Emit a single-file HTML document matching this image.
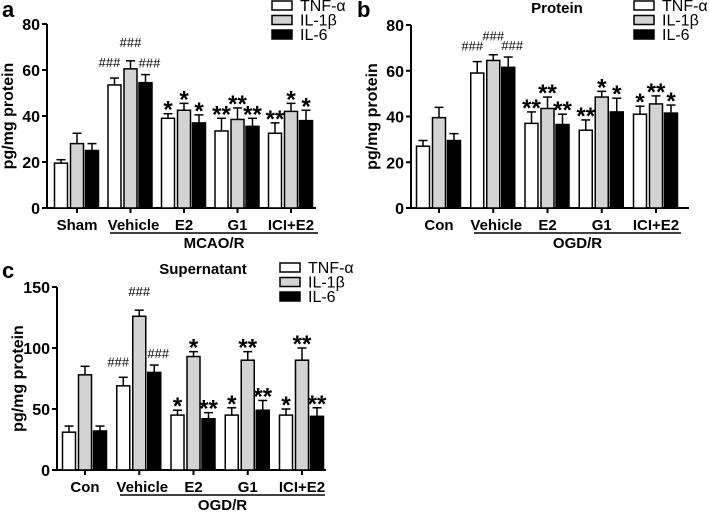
<!DOCTYPE html>
<html><head><meta charset="utf-8">
<style>
html,body{margin:0;padding:0;background:#fff;}
svg{display:block;font-family:"Liberation Sans",sans-serif;}
</style></head>
<body>
<svg id="fig" width="709" height="512" viewBox="0 0 709 512" xmlns="http://www.w3.org/2000/svg"></svg>
<script>
const seriesNames = ["TNF-α","IL-1β","IL-6"];
const seriesFill = ["#ffffff","#d3d3d3","#000000"];

const aGroups = ["Sham","Vehicle","E2","G1","ICI+E2"];
const aTNF = [19.5,53.5,39,33.5,32.5];
const aIL1 = [28,60.5,42.5,38.5,42];
const aIL6 = [25,54.5,37,35.5,38];
const aTNFerr = [1.5,3,2,5.5,4.5];
const aIL1err = [4.5,3.5,3,5,3.5];
const aIL6err = [3,3.5,3.5,3.5,4.5];
const aTicks = [0,20,40,60,80];
const aMarks = [["","",""],["###","###","###"],["*","*","*"],["**","**","**"],["**","*","*"]];

const bGroups = ["Con","Vehicle","E2","G1","ICI+E2"];
const bTNF = [27,59,37,34,41];
const bIL1 = [39.5,64.5,43.5,48.5,45.5];
const bIL6 = [29.5,61.5,36.5,42,41.5];
const bTNFerr = [2.5,5,5,4.5,3.5];
const bIL1err = [4.5,2.5,5,2.5,3.5];
const bIL6err = [3,4.5,4.5,6,3.5];
const bTicks = [0,20,40,60,80];
const bMarks = [["","",""],["###","###","###"],["**","**","**"],["**","*","*"],["*","**","*"]];

const cGroups = ["Con","Vehicle","E2","G1","ICI+E2"];
const cTNF = [31,69,45,45,45];
const cIL1 = [78,126,93,90,90];
const cIL6 = [32,80,42,49,44];
const cTNFerr = [5,7,4,6,5];
const cIL1err = [7,5,4,7,10];
const cIL6err = [4,6,5,8,7];
const cTicks = [0,50,100,150];
const cMarks = [["","",""],["###","###","###"],["*","*","**"],["*","**","**"],["*","**","**"]];

const NS="http://www.w3.org/2000/svg";
const svg=document.getElementById('fig');
function mk(tag,attrs,parent,text){
  const e=document.createElementNS(NS,tag);
  for(const k in attrs) e.setAttribute(k,attrs[k]);
  if(text!==undefined) e.textContent=text;
  (parent||svg).appendChild(e);
  return e;
}

function panel(p){
  const g=mk('g',{});
  
  
  const yMax=p.ticks[p.ticks.length-1];
  const y=v=>p.y0-(v/yMax)*(p.y0-p.yTop);
  const x=i=>p.x1+i*p.step;
  const L=mk('text',{x:p.letterX,y:p.letterY,'font-size':22,'font-weight':'bold'},g,p.id);
  
  
  if(p.title){
    const t=mk('text',{x:p.titleX,y:p.titleY,'font-size':15,'font-weight':'bold','text-anchor':'middle'},g,p.title);
    
    
  }
  const ax=mk('path',{d:`M${p.ax},${p.yTop} V${p.y0} H${p.axEnd}`,stroke:'#000','stroke-width':2,fill:'none'},g);
  
  
  p.ticks.forEach(t=>{
    mk('line',{x1:p.ax-5,x2:p.ax,y1:y(t),y2:y(t),stroke:'#000','stroke-width':2},g);
    const tl=mk('text',{x:p.ax-7,y:y(t)+6,'font-size':16,'font-weight':'bold','text-anchor':'end'},g,String(t));
    
    
  });
  const yl=mk('text',{x:0,y:0,'font-size':16,'font-weight':'bold','text-anchor':'middle',transform:`translate(${p.ax-34},${(p.y0+p.yTop)/2}) rotate(-90)`},g,'pg/mg protein');
  
  
  const offs=[-16,0,15];
  p.groups.forEach((name,i)=>{
    const cx=x(i);
    mk('line',{x1:cx,x2:cx,y1:p.y0,y2:p.y0+5,stroke:'#000','stroke-width':2},g);
    const gl=mk('text',{x:cx+(i===1?3:0),y:p.y0+22,'font-size':15,'font-weight':'bold','text-anchor':'middle'},g,name);
    
    
    p.series.forEach((s,k)=>{
      const v=s[i], e=p.errs[k][i];
      const bx=cx+offs[k]-6.5;
      const top=y(v), et=y(v+e);
      mk('line',{x1:bx+6.5,x2:bx+6.5,y1:top,y2:et,stroke:'#000','stroke-width':1.5},g);
      mk('line',{x1:bx+2,x2:bx+11,y1:et,y2:et,stroke:'#000','stroke-width':1.5},g);
      const r=mk('rect',{x:bx,y:top,width:13,height:p.y0-top,fill:seriesFill[k],stroke:'#000','stroke-width':1.5},g);
      
      
      const m=p.marks[i][k];
      if(m){
        const isHash=m[0]==='#';
        const ty=isHash? et-(k===1?14:7)-(k===0?4:0) : et+4;
        const mt=mk('text',{x:bx+6.5+(isHash&&k===0?-5:0)+(isHash&&k===2?4:0),y:ty,'font-size':isHash?13:24,'text-anchor':'middle','font-weight':isHash?'normal':'bold'},g,m);
        
        
      }
    });
  });
  mk('line',{x1:p.ulX1,x2:p.ulX2,y1:p.y0+25,y2:p.y0+25,stroke:'#000','stroke-width':1.5},g);
  const cl=mk('text',{x:(p.ulX1+p.ulX2)/2,y:p.y0+40,'font-size':15,'font-weight':'bold','text-anchor':'middle'},g,p.cond);
  
  
  seriesNames.forEach((n,k)=>{
    const ly=p.legY+k*14.5;
    const lb=mk('rect',{x:p.legX,y:ly-4,width:20,height:9,fill:seriesFill[k],stroke:'#000','stroke-width':1.5},g);
    
    
    const lt=mk('text',{x:p.legX+28,y:ly+6,'font-size':16},g,n);
    
    
  });
}

panel({id:'a',letterX:2,letterY:17,ax:47,axEnd:316,y0:208,yTop:24,x1:77,step:53.5,ticks:aTicks,groups:aGroups,
  series:[aTNF,aIL1,aIL6],errs:[aTNFerr,aIL1err,aIL6err],marks:aMarks,ulX1:110,ulX2:318,cond:'MCAO/R',legX:272,legY:5});
panel({id:'b',letterX:357,letterY:17,ax:411,axEnd:689,y0:208,yTop:25,x1:439,step:54.25,ticks:bTicks,groups:bGroups,
  series:[bTNF,bIL1,bIL6],errs:[bTNFerr,bIL1err,bIL6err],marks:bMarks,ulX1:474,ulX2:681,cond:'OGD/R',legX:634,legY:5,title:'Protein',titleX:557,titleY:13});
panel({id:'c',letterX:2,letterY:278,ax:57,axEnd:326,y0:470,yTop:287,x1:85,step:54.25,ticks:cTicks,groups:cGroups,
  series:[cTNF,cIL1,cIL6],errs:[cTNFerr,cIL1err,cIL6err],marks:cMarks,ulX1:120,ulX2:325,cond:'OGD/R',legX:280,legY:267,title:'Supernatant',titleX:203,titleY:274});
</script>
</body></html>
